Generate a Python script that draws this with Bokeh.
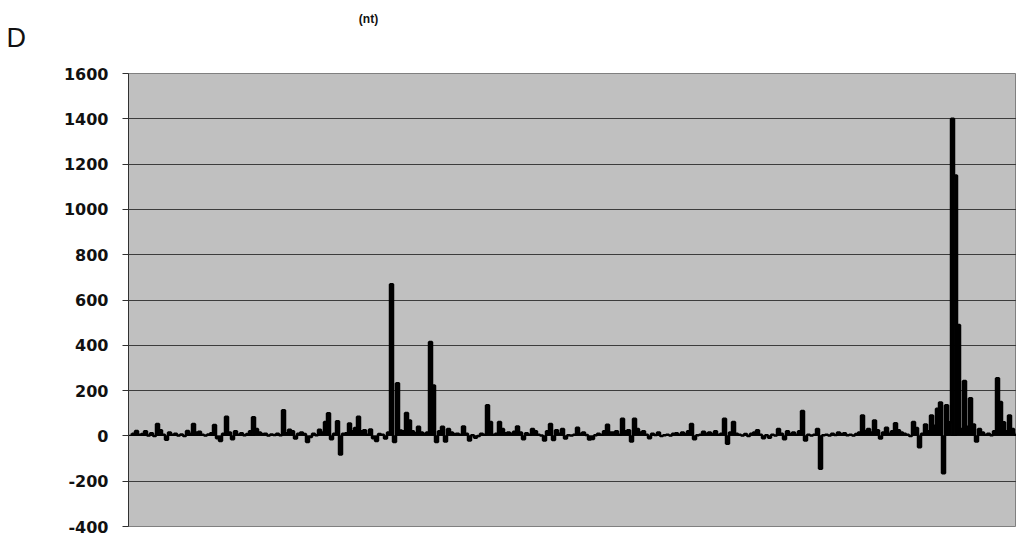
from bokeh.plotting import figure
from bokeh.layouts import column
from bokeh.models import Range1d, FixedTicker
from bokeh.core.properties import value
from bokeh.embed import file_html
from bokeh.resources import INLINE

# Signal trace, one sample per position along the sequence
values = [
    5, 10, 22, 5, 8, 20, 2, 12, 0, 53,
    25, 5, -17, 15, 5, 10, 2, 6, 0, 22,
    10, 53, 15, 18, 5, 2, 6, 12, 48, -10,
    -22, 10, 85, 15, -15, 20, 5, 12, 3, 8,
    20, 82, 30, 15, 8, 10, 2, 6, 4, 10,
    3, 113, 12, 27, 20, -12, 10, 15, 8, -27,
    -5, 10, 3, 27, 15, 61, 100, -15, 10, 65,
    -82, 10, 12, 55, 20, 35, 85, 20, 25, 5,
    28, -10, -22, 8, 5, -12, 15, 670, -27, 233,
    24, 20, 101, 68, 20, 12, 40, 15, 10, 15,
    415, 222, -27, 20, 40, -25, 30, 15, 8, 10,
    5, 42, 10, -20, 3, -8, 0, 10, 5, 135,
    61, 5, 10, 61, 30, 12, 15, 10, 18, 42,
    15, -15, 12, 5, 30, 20, 5, 2, -20, 20,
    53, -18, 25, 10, 30, -12, 3, 2, 5, 36,
    10, 15, 4, -16, -14, 3, 10, 5, 20, 49,
    15, 15, 20, 5, 76, 20, 25, -25, 76, 30,
    15, 20, 5, -10, 10, 4, 15, 0, 3, 5,
    2, 10, 12, 5, 15, 8, 20, 53, -15, 3,
    5, 18, 10, 15, 8, 20, 5, 10, 76, -35,
    15, 61, 10, 5, 2, 8, 0, 10, 15, 25,
    5, -10, 3, -8, 5, 2, 30, 10, -15, 20,
    8, 15, 5, 20, 110, -20, 5, 2, 5, 30,
    -145, 3, 5, 2, 10, 4, 15, 8, 12, 3,
    5, 2, 8, 15, 90, 20, 30, 15, 68, 25,
    -12, 15, 36, 10, 20, 56, 25, 15, 10, 5,
    0, 61, 35, -50, 10, 50, 20, 90, 45, 120,
    148, -165, 135, 60, 1400, 1150, 490, 30, 242, 40,
    166, 50, -25, 30, 15, 5, 10, 3, 20, 254,
    150, 60, 20, 90, 30, 10,
]
positions = list(range(len(values)))

y_ticks = [-400, -200, 0, 200, 400, 600, 800, 1000, 1200, 1400, 1600]
panel_label = "D"
unit_label = "(nt)"

# --- heading strip: panel letter and unit note -------------------------
head = figure(
    width=1016, height=60,
    output_backend="svg", toolbar_location=None,
    x_range=Range1d(0, 1016), y_range=Range1d(60, 0),
    min_border=0, frame_align=False,
)
head.axis.visible = False
head.grid.visible = False
head.outline_line_color = None
head.background_fill_color = "white"
head.border_fill_color = "white"
head.text(x=[6], y=[37], text=[panel_label],
          text_font=value("Liberation Sans"), text_font_size="27px",
          text_color="#111111", text_baseline="middle")
head.text(x=[368], y=[18], text=[unit_label],
          text_font=value("Liberation Sans"), text_font_style="bold",
          text_font_size="12px", text_color="#111111",
          text_align="center", text_baseline="middle")

# --- main trace ------------------------------------------------------------
p = figure(
    width=1016, height=478,
    output_backend="svg", toolbar_location=None,
    x_range=Range1d(-0.67, len(values) - 0.67),
    y_range=Range1d(-400, 1600),
    min_border_left=128, min_border_right=0,
    min_border_top=13, min_border_bottom=12,
    frame_align=False,
)
p.background_fill_color = "#c0c0c0"
p.border_fill_color = "white"
p.outline_line_color = "#808080"
p.outline_line_width = 1

p.xaxis.visible = False
p.xgrid.visible = False

p.ygrid.ticker = FixedTicker(ticks=y_ticks)
p.ygrid.grid_line_color = "#3c3c3c"
p.ygrid.grid_line_width = 1

ax = p.yaxis[0]
ax.ticker = FixedTicker(ticks=y_ticks)
ax.major_label_overrides = {t: str(t) for t in y_ticks}
ax.axis_line_color = "#303030"
ax.axis_line_width = 1
ax.major_tick_line_color = "#303030"
ax.major_tick_out = 6
ax.major_tick_in = 0
ax.minor_tick_line_color = None
ax.major_label_standoff = 14
ax.major_label_text_font = "DejaVu Sans"
ax.major_label_text_font_style = "bold"
ax.major_label_text_font_size = "16px"
ax.major_label_text_color = "#111111"

# filled steps under a heavy outline give the solid spikes
p.vbar(x=positions, top=values, bottom=0, width=1.0,
       fill_color="black", line_color=None)
p.step(positions, values, mode="center", line_color="black", line_width=2.5)

layout = column(head, p, spacing=0)
open("out.html", "w").write(file_html(layout, INLINE))
